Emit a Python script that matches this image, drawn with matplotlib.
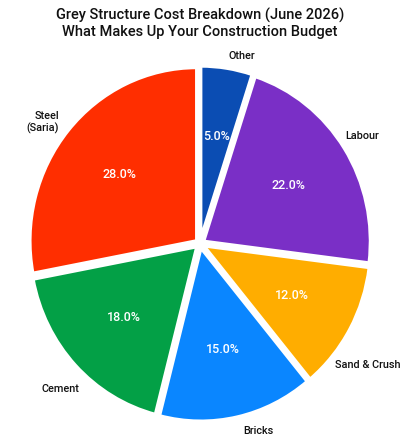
import numpy as np
import matplotlib
matplotlib.use("Agg")
import matplotlib.pyplot as plt

plt.rcParams["font.family"] = ["Roboto", "DejaVu Sans"]

# data, clockwise from the top
categories = ["Other", "Labour", "Sand & Crush", "Bricks", "Cement", "Steel\n(Saria)"]
shares = [5.0, 22.0, 12.0, 15.0, 18.0, 28.0]
colors = ["#0b4db3", "#7a2fc6", "#ffad00", "#0a86ff", "#03a046", "#ff2e00"]

TITLE = "Grey Structure Cost Breakdown (June 2026)\nWhat Makes Up Your Construction Budget"

# outer labels nudged round the circle (degrees) and pulled in/out, like the original
LABEL_SHIFT = {"Sand & Crush": (-12, 1.07), "Cement": (6, 1.11), "Bricks": (1, 1.11),
               "Labour": (3, 1.07)}


def main():
    fig = plt.figure(figsize=(4.0, 4.45), dpi=100)
    fig.patch.set_facecolor("white")

    ax = fig.add_axes([0.02, 0.02, 0.96, 0.865])
    wedges, texts, autotexts = ax.pie(
        shares,
        labels=categories,
        colors=colors,
        startangle=90,
        counterclock=False,
        explode=[0.025] * len(shares),
        autopct="%1.1f%%",
        pctdistance=0.6,
        labeldistance=1.07,
        wedgeprops=dict(edgecolor="white", linewidth=2.5),
        textprops=dict(fontsize=7.8, color="#111111", fontweight="medium"),
    )
    for t in autotexts:
        t.set_color("white")
        t.set_fontsize(9)
        t.set_fontweight("medium")

    for w, t in zip(wedges, texts):
        name = t.get_text()
        if name in LABEL_SHIFT:
            da, r = LABEL_SHIFT[name]
            ang = np.deg2rad((w.theta1 + w.theta2) / 2 + da)
            t.set_position((r * np.cos(ang), r * np.sin(ang)))

    # the original circle is a touch taller than wide
    ax.set_aspect("auto")
    ax.set_xlim(-1.15, 1.15)
    ax.set_ylim(-1.11, 1.11)
    ax.axis("off")

    fig.text(0.5, 0.948, TITLE, ha="center", va="center", fontsize=10.5,
             fontweight="medium", color="#111111", linespacing=1.15)

    fig.savefig("out.png", dpi=100)
    plt.close(fig)


if __name__ == "__main__":
    main()
